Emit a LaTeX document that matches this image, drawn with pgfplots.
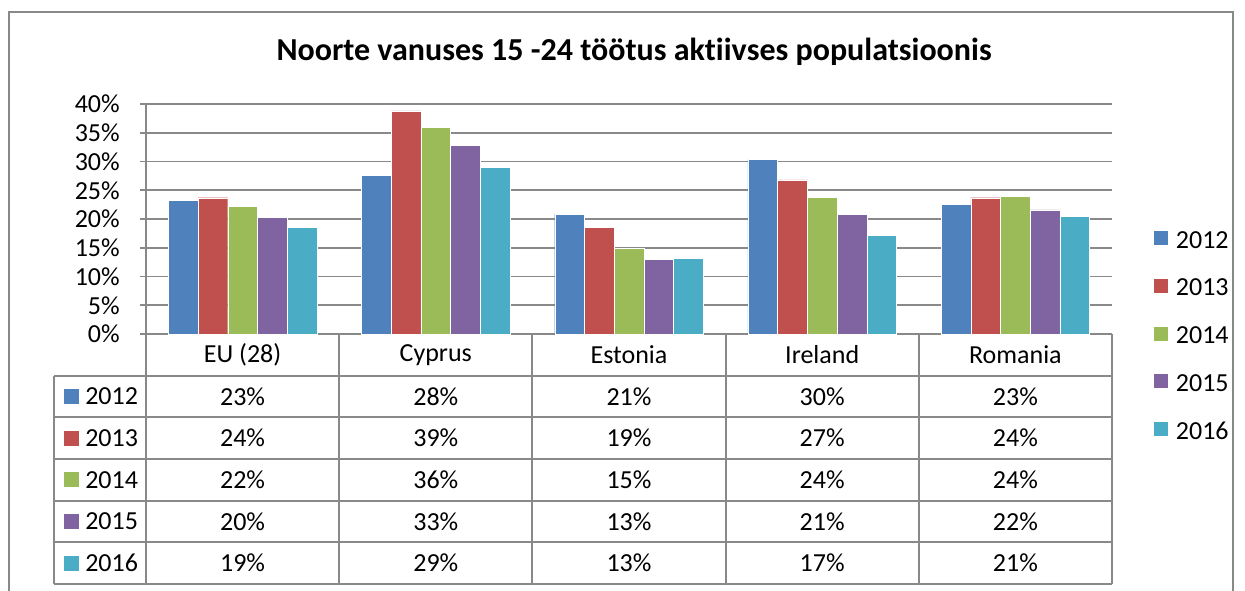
\documentclass[border=0pt]{standalone}
\usepackage{pgfplots}
\pgfplotsset{compat=1.18}
\usepackage{pgfplotstable}
\usepackage{fontspec}
\setmainfont{Carlito}[Ligatures=NoCommon]
\definecolor{c1}{HTML}{4F81BD}
\definecolor{c2}{HTML}{C0504D}
\definecolor{c3}{HTML}{9BBB59}
\definecolor{c4}{HTML}{8064A2}
\definecolor{c5}{HTML}{4BACC6}
\definecolor{gridc}{HTML}{898989}
\newcommand{\tf}{\fontsize{19.5}{23}\selectfont}

\pgfplotstableread{
x a b c d e
0 23.2 23.7 22.2 20.3 18.6
1 27.6 38.8 35.9 32.8 29.0
2 20.8 18.6 14.9 13.0 13.2
3 30.4 26.8 23.8 20.8 17.1
4 22.5 23.7 24.0 21.6 20.5
}\data

\begin{document}
\begin{tikzpicture}
\begin{scope}[x=0.75pt,y=-0.75pt]
\useasboundingbox (0,0) rectangle (1245,590);
\draw[gridc, line width=1.4pt] (9,620) -- (9,12) -- (1233,12) -- (1233,620);
\node[font=\bfseries\fontsize{24}{28}\selectfont] at (634,52) {Noorte vanuses 15 -24 töötus aktiivses populatsioonis};
% table grid
\foreach \yy in {375.7,417.3,459,500.7,542,584} \draw[gridc,line width=1.4pt] (54,\yy) -- (1112,\yy);
\draw[gridc,line width=1.4pt] (54,375.7) -- (54,584);
\foreach \xx in {146,339.2,532.4,725.6,918.8,1112} \draw[gridc,line width=1.4pt] (\xx,334) -- (\xx,584);
% header
\foreach \n [count=\i from 0] in {EU (28),Cyprus,Estonia,Ireland,Romania}
  \node[font=\tf] at ({242.6+193.2*\i},355) {\n};
% row labels
\foreach \yr/\col [count=\k from 0] in {2012/c1,2013/c2,2014/c3,2015/c4,2016/c5}{
  \fill[\col] (64,{396.5+41.66*\k-7.5}) rectangle (79,{396.5+41.66*\k+7.5});
  \node[font=\tf,anchor=west,inner sep=0pt] at (85,{396.5+41.66*\k}) {\yr};
}
% values
\foreach \row [count=\k from 0] in {{23,28,21,30,23},{24,39,19,27,24},{22,36,15,24,24},{20,33,13,21,22},{19,29,13,17,21}}{
  \foreach \v [count=\i from 0] in \row
    \node[font=\tf] at ({242.6+193.2*\i},{396.5+41.66*\k}) {\v\%};
}
\end{scope}
\begin{axis}[
  at={(109.5pt,-250.5pt)}, anchor=south west,
  width=724.5pt, height=172.5pt, scale only axis,
  xmin=-0.5, xmax=4.5, ymin=0, ymax=40,
  ybar=0pt, bar width=0.1538,
  axis x line=bottom, axis y line=left,
  axis line style={gridc, line width=1.4pt, -},
  xtick=\empty,
  ytick={0,5,...,40}, ymajorgrids, grid style={gridc, line width=1.4pt},
  major tick length=4.5pt, tick align=outside,
  y tick style={gridc, line width=1.4pt},
  /pgf/number format/assume math mode=true,
  yticklabel={\pgfmathprintnumber{\tick}\%},
  yticklabel style={font=\tf, anchor=east, inner sep=0pt, xshift=-15pt},
  clip=false,
  legend style={at={(axis description cs:1.0375,-0.0135)}, anchor=west,
    draw=none, fill=none, font=\tf, row sep=17.85pt,
    nodes={inner sep=0pt, text height=14pt, text depth=4pt}},
  legend image code/.code={\fill[#1] (0pt,-2.7pt) rectangle (11.25pt,8.55pt); \path (17.25pt,0pt);},
]
\addplot[fill=c1, draw=white, line width=0.3pt] table[x=x,y=a]{\data};
\addplot[fill=c2, draw=white, line width=0.3pt] table[x=x,y=b]{\data};
\addplot[fill=c3, draw=white, line width=0.3pt] table[x=x,y=c]{\data};
\addplot[fill=c4, draw=white, line width=0.3pt] table[x=x,y=d]{\data};
\addplot[fill=c5, draw=white, line width=0.3pt] table[x=x,y=e]{\data};
\legend{2012,2013,2014,2015,2016}
\end{axis}
\end{tikzpicture}
\end{document}
